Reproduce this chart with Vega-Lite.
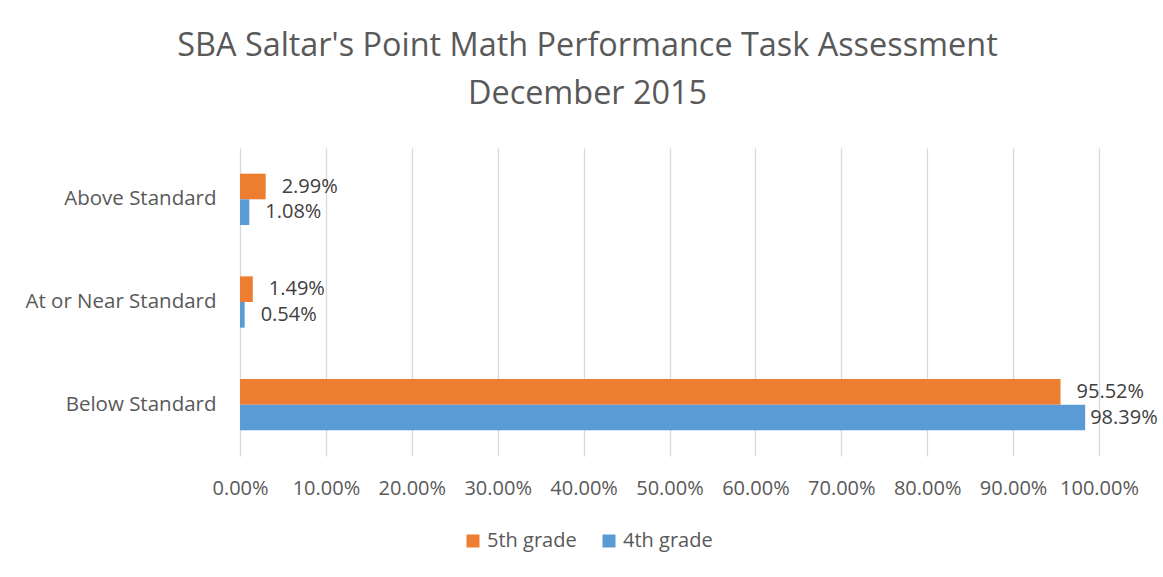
{
  "$schema": "https://vega.github.io/schema/vega-lite/v6.json",
  "autosize": {"type": "none"},
  "padding": {"left": 240, "top": 148, "right": 64, "bottom": 121},
  "width": 859,
  "height": 308,
  "background": "white",
  "title": {
    "text": ["SBA Saltar's Point Math Performance Task Assessment", "December 2015"],
    "anchor": "middle",
    "dx": -82,
    "fontSize": 32.4,
    "fontWeight": "normal",
    "font": "Open Sans",
    "color": "#595959",
    "lineHeight": 48,
    "offset": 38
  },
  "config": {
    "font": "Open Sans",
    "view": {"stroke": null}
  },
  "data": {
    "values": [
      {"level": "Above Standard", "grade": "5th grade", "value": 0.0299},
      {"level": "Above Standard", "grade": "4th grade", "value": 0.0108},
      {"level": "At or Near Standard", "grade": "5th grade", "value": 0.0149},
      {"level": "At or Near Standard", "grade": "4th grade", "value": 0.0054},
      {"level": "Below Standard", "grade": "5th grade", "value": 0.9552},
      {"level": "Below Standard", "grade": "4th grade", "value": 0.9839}
    ]
  },
  "encoding": {
    "y": {
      "field": "level",
      "type": "nominal",
      "sort": ["Above Standard", "At or Near Standard", "Below Standard"],
      "scale": {"paddingInner": 0.5, "paddingOuter": 0.25},
      "axis": {
        "title": null,
        "domain": false,
        "ticks": false,
        "labelFontSize": 20.5,
        "labelColor": "#595959",
        "labelPadding": 24,
        "labelLimit": 400,
        "labelFont": "Open Sans"
      }
    },
    "yOffset": {
      "field": "grade",
      "type": "nominal",
      "sort": ["5th grade", "4th grade"]
    }
  },
  "layer": [
    {
      "mark": {"type": "bar"},
      "encoding": {
        "x": {
          "field": "value",
          "type": "quantitative",
          "scale": {"domain": [0, 1], "nice": false},
          "axis": {
            "title": null,
            "format": ".2%",
            "values": [0, 0.1, 0.2, 0.3, 0.4, 0.5, 0.6, 0.7, 0.8, 0.9, 1.0],
            "domain": false,
            "ticks": false,
            "grid": true,
            "gridColor": "#d9d9d9",
            "gridWidth": 1.3,
            "labelFontSize": 20,
            "labelColor": "#595959",
            "labelPadding": 22,
            "labelFont": "Open Sans",
            "labelOverlap": false,
            "labelFlush": false,
            "labelBound": false
          }
        },
        "color": {
          "field": "grade",
          "type": "nominal",
          "scale": {"domain": ["5th grade", "4th grade"], "range": ["#ED7D31", "#5B9BD5"]},
          "legend": {
            "title": null,
            "orient": "none",
            "direction": "horizontal",
            "legendX": 223,
            "legendY": 383,
            "symbolType": "square",
            "symbolSize": 169,
            "symbolStrokeWidth": 0,
            "symbolOpacity": 1,
            "labelFontSize": 20,
            "labelColor": "#595959",
            "labelFont": "Open Sans",
            "columnPadding": 22,
            "labelOffset": 4
          }
        }
      }
    },
    {
      "transform": [{"filter": "datum.value < 0.97"}],
      "mark": {"type": "text", "align": "left", "baseline": "middle", "dx": 16, "fontSize": 20, "color": "#404040", "font": "Open Sans"},
      "encoding": {
        "x": {"field": "value", "type": "quantitative"},
        "text": {"field": "value", "type": "quantitative", "format": ".2%"}
      }
    },
    {
      "transform": [{"filter": "datum.value >= 0.97"}],
      "mark": {"type": "text", "align": "left", "baseline": "middle", "dx": 5, "fontSize": 20, "color": "#404040", "font": "Open Sans"},
      "encoding": {
        "x": {"field": "value", "type": "quantitative"},
        "text": {"field": "value", "type": "quantitative", "format": ".2%"}
      }
    }
  ]
}
